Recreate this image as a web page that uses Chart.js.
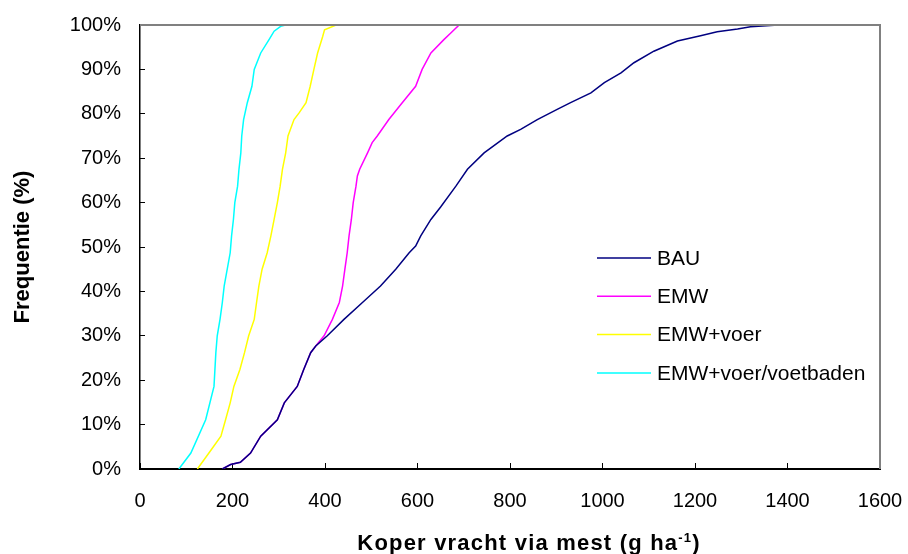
<!DOCTYPE html>
<html>
<head>
<meta charset="utf-8">
<script src="https://cdn.jsdelivr.net/npm/chart.js@4.4.1/dist/chart.umd.min.js"></script>
<style>
    body { margin: 0; background: #fff; }
</style>
</head>
<body>
<canvas id="chart" width="908" height="554"></canvas>
<script>
// values (x = g/ha, y = cumulative %)
const seriesLabels = ["BAU", "EMW", "EMW+voer", "EMW+voer/voetbaden"];
const seriesColors = ["#000080", "#ff00ff", "#ffff00", "#00ffff"];

const bauX = [178, 196, 217, 239, 261, 297, 312, 340, 354, 369, 380, 405, 441, 481, 520, 553, 582, 596, 607, 629, 650, 683, 708, 744, 794, 823, 859, 902, 931, 975, 1004, 1040, 1068, 1111, 1162, 1212, 1248, 1292, 1320, 1380];
const bauY = [0, 1, 1.5, 3.6, 7.4, 11.1, 14.9, 18.6, 22.4, 26.2, 27.7, 30, 33.7, 37.5, 41.2, 45, 48.7, 50.2, 52.5, 56.2, 59, 63.7, 67.5, 71.2, 75, 76.5, 78.7, 81, 82.5, 84.7, 87, 89.2, 91.5, 94.1, 96.4, 97.6, 98.5, 99.1, 99.6, 100];

const emwX = [178, 196, 217, 239, 261, 297, 312, 340, 354, 369, 380, 398, 416, 431, 438, 443, 448, 452, 457, 461, 467, 470, 475, 492, 502, 513, 538, 567, 596, 610, 629, 657, 672, 690];
const emwY = [0, 1, 1.5, 3.6, 7.4, 11.1, 14.9, 18.6, 22.4, 26.2, 27.7, 30, 33.7, 37.5, 41.2, 45, 48.7, 52.5, 56.2, 60, 63.7, 66, 67.5, 71.2, 73.5, 75, 78.7, 82.5, 86.2, 90, 93.7, 96.7, 98.2, 100];

const voerX = [124, 149, 175, 185, 195, 203, 216, 226, 235, 247, 252, 257, 264, 275, 283, 290, 297, 303, 308, 315, 320, 333, 344, 359, 368, 376, 384, 395, 399, 424];
const voerY = [0, 3.6, 7.4, 11.1, 14.9, 18.6, 22.4, 26.2, 30, 33.7, 37.5, 41.2, 45, 48.7, 52.5, 56.2, 60, 63.7, 67.5, 71.2, 75, 78.7, 80.2, 82.5, 86.2, 90, 93.7, 97.4, 98.9, 100];

const badX = [84, 110, 142, 160, 164, 167, 173, 178, 182, 195, 198, 202, 205, 211, 214, 218, 220, 224, 232, 242, 247, 261, 279, 290, 304, 315];
const badY = [0, 3.6, 11.1, 18.6, 26.2, 30, 33.7, 37.5, 41.2, 48.7, 52.5, 56.2, 60, 63.7, 67.5, 71.2, 75, 78.7, 82.5, 86.2, 90, 93.7, 96.7, 98.6, 99.7, 100];

const xTicks = [0, 200, 400, 600, 800, 1000, 1200, 1400, 1600];
const yTicks = [0, 10, 20, 30, 40, 50, 60, 70, 80, 90, 100];

const seriesX = [bauX, emwX, voerX, badX];
const seriesY = [bauY, emwY, voerY, badY];

function toPoints(xs, ys) {
    return xs.map((x, i) => ({ x: x, y: ys[i] }));
}

// gray frame on top and right of the plot area
const framePlugin = {
    id: "frame",
    afterDraw(chart) {
        const { ctx, chartArea: a } = chart;
        ctx.save();
        ctx.strokeStyle = "#808080";
        ctx.lineWidth = 2;
        ctx.beginPath();
        ctx.moveTo(a.left, a.top);
        ctx.lineTo(a.right, a.top);
        ctx.lineTo(a.right, a.bottom);
        ctx.stroke();
        ctx.restore();
    },
};

// legend inside the plot area
const legendPlugin = {
    id: "innerLegend",
    afterDraw(chart) {
        const ctx = chart.ctx;
        ctx.save();
        ctx.font = "21px 'Liberation Sans', Arial, sans-serif";
        ctx.textBaseline = "middle";
        ctx.fillStyle = "#000";
        chart.data.datasets.forEach((ds, i) => {
            const y = 258 + i * 38.3;
            ctx.strokeStyle = ds.borderColor;
            ctx.lineWidth = 1.5;
            ctx.beginPath();
            ctx.moveTo(597, y);
            ctx.lineTo(651, y);
            ctx.stroke();
            ctx.fillText(ds.label, 657, y + 1);
        });
        ctx.restore();
    },
};

// x axis title with superscript
const xTitlePlugin = {
    id: "xTitle",
    afterDraw(chart) {
        const ctx = chart.ctx;
        const main = "Koper vracht via mest (g ha";
        const sup = "-1";
        const end = ")";
        ctx.save();
        ctx.fillStyle = "#000";
        ctx.textBaseline = "alphabetic";
        ctx.letterSpacing = "1.2px";
        const big = "bold 22px 'Liberation Sans', Arial, sans-serif";
        const small = "bold 13px 'Liberation Sans', Arial, sans-serif";
        ctx.font = big;
        const w1 = ctx.measureText(main).width;
        const w3 = ctx.measureText(end).width;
        ctx.font = small;
        const w2 = ctx.measureText(sup).width;
        const cx = (chart.chartArea.left + chart.chartArea.right) / 2 + 19;
        let x = cx - (w1 + w2 + w3) / 2;
        const y = 550;
        ctx.font = big;
        ctx.fillText(main, x, y);
        x += w1;
        ctx.font = small;
        ctx.fillText(sup, x, y - 8);
        x += w2;
        ctx.font = big;
        ctx.fillText(end, x, y);
        ctx.restore();
    },
};

const ctx = document.getElementById("chart").getContext("2d");

new Chart(ctx, {
    type: "line",
    data: {
        datasets: seriesLabels.map((label, i) => ({
            label: label,
            data: toPoints(seriesX[i], seriesY[i]),
            borderColor: seriesColors[i],
            backgroundColor: seriesColors[i],
            borderWidth: 1.5,
            pointRadius: 0,
            tension: 0,
            fill: false,
        })),
    },
    options: {
        responsive: false,
        animation: false,
        layout: {
            padding: { left: 0, right: 28, top: 25, bottom: 0 },
        },
        plugins: {
            legend: { display: false },
            tooltip: { enabled: false },
        },
        scales: {
            x: {
                type: "linear",
                min: 0,
                max: 1600,
                afterBuildTicks: (scale) => {
                    scale.ticks = xTicks.map((v) => ({ value: v }));
                },
                afterFit: (scale) => {
                    scale.height = 85;
                    scale.paddingLeft = 0;
                    scale.paddingRight = 0;
                },
                grid: {
                    drawOnChartArea: false,
                    drawTicks: true,
                    tickLength: -6,
                    color: "#000",
                    lineWidth: 1,
                },
                border: { color: "#000", width: 2 },
                ticks: {
                    padding: 26,
                    maxRotation: 0,
                    color: "#000",
                    font: { family: "'Liberation Sans', Arial, sans-serif", size: 20 },
                    callback: (v) => String(v),
                },
            },
            y: {
                min: 0,
                max: 100,
                afterBuildTicks: (scale) => {
                    scale.ticks = yTicks.map((v) => ({ value: v }));
                },
                afterFit: (scale) => {
                    scale.width = 140;
                    scale.paddingTop = 0;
                    scale.paddingBottom = 0;
                },
                grid: {
                    drawOnChartArea: false,
                    drawTicks: true,
                    tickLength: -5,
                    color: "#000",
                    lineWidth: 1,
                },
                border: { color: "#000", width: 1.5 },
                ticks: {
                    padding: 24,
                    color: "#000",
                    font: { family: "'Liberation Sans', Arial, sans-serif", size: 20 },
                    callback: (v) => v + "%",
                },
                title: {
                    display: true,
                    text: "Frequentie (%)",
                    color: "#000",
                    padding: { top: 10, bottom: 0 },
                    font: { family: "'Liberation Sans', Arial, sans-serif", size: 22, weight: "bold" },
                },
            },
        },
    },
    plugins: [framePlugin, legendPlugin, xTitlePlugin],
});
</script>
</body>
</html>
